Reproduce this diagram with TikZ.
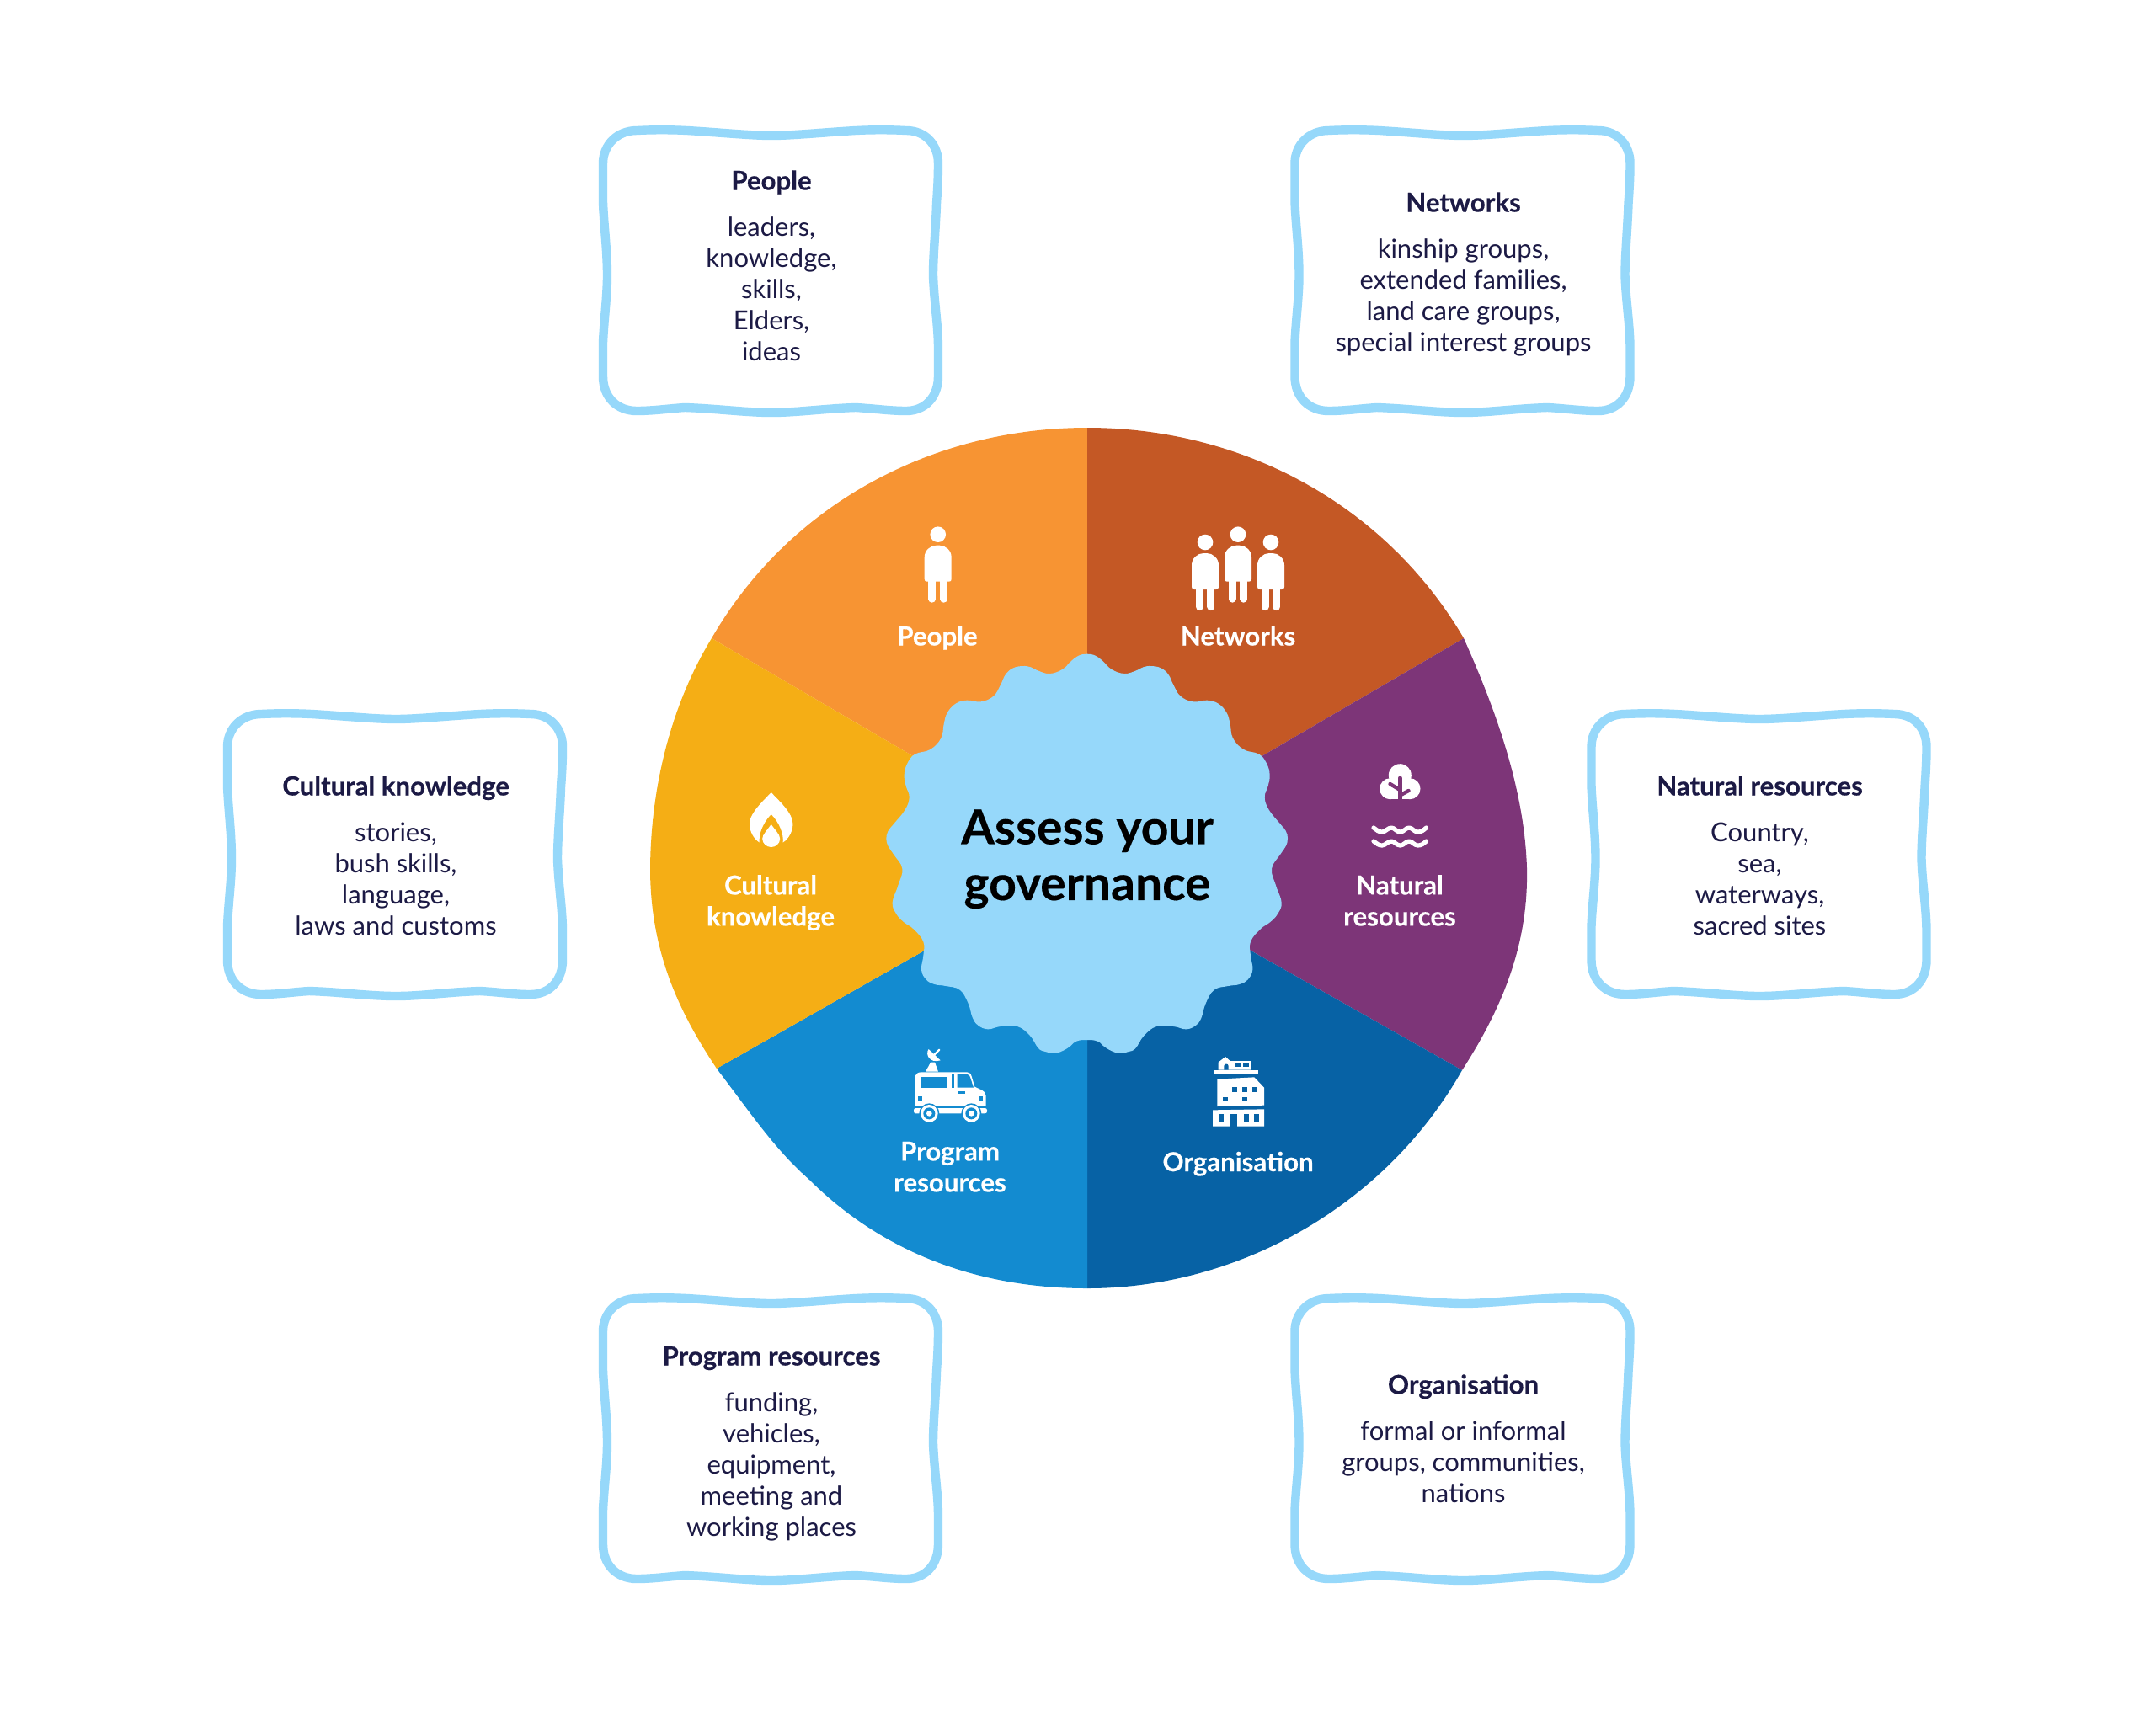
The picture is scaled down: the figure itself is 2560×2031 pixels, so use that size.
\documentclass[tikz,border=0pt]{standalone}
\usepackage{fontspec}
\setmainfont{Lato}[BoldFeatures={FakeBold=0.25}]
\definecolor{cpeople}{HTML}{F79433}
\definecolor{cnet}{HTML}{C45825}
\definecolor{cnat}{HTML}{7D3578}
\definecolor{corg}{HTML}{0762A5}
\definecolor{cprog}{HTML}{138BD0}
\definecolor{ccult}{HTML}{F5AE15}
\definecolor{csky}{HTML}{96D8FA}
\definecolor{cink}{HTML}{1C1A45}
\def\boxpath{(-160,-167) .. controls (-140,-168) and (-120,-168) .. (-100,-167)
 .. controls (-65,-165) and (-25,-161) .. (0,-161)
 .. controls (25,-161) and (65,-165) .. (100,-167)
 .. controls (120,-168) and (140,-168) .. (160,-167)
 .. controls (183,-167) and (198,-150) .. (198,-128)
 .. controls (198,-110) and (197,-95) .. (196,-80)
 .. controls (195,-50) and (192,-20) .. (192,5)
 .. controls (193,35) and (198,65) .. (198,92)
 -- (198,125) .. controls (198,150) and (182,166) .. (160,166)
 .. controls (140,166) and (120,163) .. (100,162)
 .. controls (65,163) and (30,168) .. (0,168)
 .. controls (-30,168) and (-68,163) .. (-103,162)
 .. controls (-120,163) and (-140,166) .. (-160,166)
 .. controls (-183,166) and (-200,150) .. (-200,125)
 -- (-200,85) .. controls (-199,60) and (-195,30) .. (-195,5)
 .. controls (-195,-25) and (-199,-55) .. (-200,-82)
 -- (-200,-128) .. controls (-200,-150) and (-183,-167) .. (-160,-167) -- cycle}
\tikzset{
 boxline/.style={draw=csky,line width=5.2pt,line join=round},
 headtxt/.style={anchor=base,inner sep=0pt,text=cink,font=\fontsize{15.6}{18.5}\selectfont\bfseries},
 bodytxt/.style={anchor=north,inner sep=0pt,align=center,text=cink,font=\fontsize{15.5}{18.5}\selectfont},
 wlabel/.style={anchor=base,inner sep=0pt,text=white,font=\fontsize{15.6}{18.5}\selectfont\bfseries},
 wlabeltwo/.style={anchor=north,inner sep=0pt,align=center,text=white,font=\fontsize{15.6}{18.5}\selectfont\bfseries},
 titletxt/.style={anchor=north,inner sep=0pt,align=center,text=black,font=\fontsize{28.5}{33.25}\selectfont\bfseries},
 person/.pic={
  \fill[white] (0,0) circle[radius=9.3];
  \fill[white] (-16,53) -- (-16,27) .. controls (-16,19) and (-9,13) .. (-2,13) -- (2,13)
    .. controls (9,13) and (16,19) .. (16,27) -- (16,53)
    .. controls (16,55) and (15,56) .. (13,56) -- (-13,56)
    .. controls (-15,56) and (-16,55) .. (-16,53) -- cycle;
  \draw[white,line width=4.5pt,line cap=round] (-6.9,50) -- (-6.9,76.5);
  \draw[white,line width=4.5pt,line cap=round] (6.9,50) -- (6.9,76.5);
 }
}
\begin{document}
\begin{tikzpicture}[x=0.5pt,y=-0.5pt]
\useasboundingbox (0,0) rectangle (2560,2031);
\fill[white] (0,0) rectangle (2560,2031);

% wheel sectors
\coordinate (hub) at (1291,1019);
\coordinate (ptop) at (1291,508);
\coordinate (pbot) at (1291,1530);
\coordinate (pul) at (845,758);
\coordinate (pur) at (1738,758);
\coordinate (pll) at (851,1269);
\coordinate (plr) at (1736,1271);
\fill[cpeople] (hub) -- (pul) .. controls (937,599) and (1107,508) .. (ptop) -- cycle;
\fill[cnet] (hub) -- (ptop) .. controls (1475,508) and (1645,599) .. (pur) -- cycle;
\fill[cnat] (hub) -- (pur) .. controls (1770,830) and (1810,930) .. (1813,1031)
   .. controls (1815,1120) and (1785,1195) .. (plr) -- cycle;
\fill[corg] (hub) -- (plr) .. controls (1646,1430) and (1473,1530) .. (pbot) -- cycle;
\fill[cprog] (hub) -- (pbot) .. controls (1150,1530) and (1040,1480) .. (960,1400)
   .. controls (920,1365) and (890,1320) .. (pll) -- cycle;
\fill[ccult] (hub) -- (pll) .. controls (805,1200) and (773,1130) .. (772,1035)
   .. controls (772,940) and (795,840) .. (pul) -- cycle;

% central bloom
\begin{scope}[shift={(1040,765)},scale=1/3]
\fill[csky] plot[smooth cycle,tension=0.7] coordinates {
 (752,35) (782,41) (808,60) (840,90) (885,105) (925,95) (952,82) (980,78) (1015,85) (1042,108) (1060,145)
 (1085,185) (1130,205) (1180,200) (1220,212) (1250,245) (1262,285) (1272,335) (1310,375)
 (1365,392) (1392,425) (1403,465) (1397,505) (1385,545) (1400,590) (1440,640) (1460,665) (1467,692)
 (1460,720) (1440,750) (1410,800) (1425,860) (1445,920) (1432,960) (1405,990) (1370,1015) (1335,1060)
 (1335,1110) (1342,1160) (1325,1195) (1295,1212) (1255,1218) (1205,1232) (1175,1280)
 (1160,1330) (1140,1358) (1105,1372) (1060,1362) (1000,1362) (955,1395) (925,1440) (900,1452) (872,1457)
 (845,1452) (815,1435) (790,1415) (752,1410)
 (714,1415) (689,1435) (659,1452) (632,1457) (604,1452) (579,1440) (549,1395) (504,1362) (444,1362)
 (399,1372) (364,1358) (344,1330) (329,1280) (299,1232) (249,1218) (209,1212) (179,1195) (162,1160)
 (169,1110) (169,1060) (134,1015) (99,990) (72,960) (59,920) (79,860) (94,800) (64,750)
 (44,720) (37,692) (44,665) (64,640) (104,590) (119,545) (107,505) (101,465) (112,425) (139,392) (194,375)
 (232,335) (242,285) (254,245) (284,212) (324,200) (374,205) (419,185) (444,145) (462,108) (489,85)
 (524,78) (552,82) (579,95) (619,105) (664,90) (696,60) (722,41)};
\end{scope}
\node[titletxt] (title) at (1291,955.5) {\strut Assess your\\governance};

% info boxes
\draw[boxline,shift={(916,322)}] \boxpath;
\draw[boxline,shift={(1737.5,322)}] \boxpath;
\draw[boxline,shift={(470,1015)}] \boxpath;
\draw[boxline,shift={(2089.5,1015)}] \boxpath;
\draw[boxline,shift={(916,1709)}] \boxpath;
\draw[boxline,shift={(1737.5,1709)}] \boxpath;

\node[headtxt] (hpeople) at (916,225.5) {People};
\node[bodytxt] (bpeople) at (916,254.6) {\strut leaders,\\knowledge,\\skills,\\Elders,\\ideas};
\node[headtxt] (hnet) at (1737.5,251.5) {Networks};
\node[bodytxt] (bnet) at (1737.5,280.6) {\strut kinship groups,\\extended families,\\land care groups,\\special interest groups};
\node[headtxt] (hcult) at (470,944.5) {Cultural knowledge};
\node[bodytxt] (bcult) at (470,973.6) {\strut stories,\\bush skills,\\language,\\laws and customs};
\node[headtxt] (hnat) at (2089.5,944.5) {Natural resources};
\node[bodytxt] (bnat) at (2089.5,973.6) {\strut Country,\\sea,\\waterways,\\sacred sites};
\node[headtxt] (hprog) at (916,1621.5) {Program resources};
\node[bodytxt] (bprog) at (916,1650.6) {\strut funding,\\vehicles,\hspace*{4.5pt}\\equipment,\hspace*{4.5pt}\\meeting and\\working places};
\node[headtxt] (horg) at (1737.5,1655.5) {Organisation};
\node[bodytxt] (borg) at (1737.5,1684.6) {\strut formal or informal\\groups, communities,\\nations};

% wheel labels
\node[wlabel] (lpeople) at (1113,766.5) {People};
\node[wlabel] (lnet) at (1470,766.5) {Networks};
\node[wlabeltwo] (lcult) at (915,1036.1) {\strut Cultural\\knowledge};
\node[wlabeltwo] (lnat) at (1662,1036.1) {\strut Natural\\resources};
\node[wlabeltwo] (lprog) at (1128,1352.1) {\strut Program\\resources};
\node[wlabel] (lorg) at (1470,1391) {Organisation};

% people icons
\pic at (1113.7,634.7) {person};
\pic at (1431,644) {person};
\pic at (1470,634.7) {person};
\pic at (1509,644) {person};

% flame icon
\begin{scope}[shift={(915.7,941)}]
\fill[white] (0,0) .. controls (-8,9) and (-25.7,24) .. (-25.7,37.5)
  .. controls (-25.7,46) and (-21,55) .. (-14,59.5)
  .. controls (-15,50) and (-10,36) .. (0,26)
  .. controls (10,36) and (15,50) .. (14,59.5)
  .. controls (21,55) and (25.7,46) .. (25.7,37.5)
  .. controls (25.7,24) and (8,9) .. (0,0) -- cycle;
\fill[white] (0,38) .. controls (-4,44) and (-10.5,50) .. (-10.5,55)
  .. controls (-10.5,61) and (-5,65) .. (0,65)
  .. controls (5,65) and (10.5,61) .. (10.5,55)
  .. controls (10.5,50) and (4,44) .. (0,38) -- cycle;
\end{scope}

% tree and water icon
\begin{scope}
\clip (1630,900) rectangle (1695,949.3);
\fill[white] (1662.3,920.7) circle[radius=13.5];
\fill[white] (1650.7,936.7) circle[radius=12.5];
\fill[white] (1674,936.7) circle[radius=12.5];
\fill[white] (1650,930) rectangle (1674,949.3);
\end{scope}
\draw[cnat,line width=2.4pt,line cap=round] (1662.3,924) -- (1662.3,952);
\draw[cnat,line width=2.2pt,line cap=round] (1650.5,931) -- (1662.3,938);
\draw[cnat,line width=2.2pt,line cap=round] (1672.5,939) -- (1662.3,944.5);
\foreach \wy in {985,1001}{
 \draw[white,line width=2.6pt,line cap=round,line join=round]
  (1631,\wy-2) .. controls (1635,\wy+1) and (1637,\wy+3) .. (1641,\wy+3)
  .. controls (1645,\wy+3) and (1648,\wy-2) .. (1652,\wy-2)
  .. controls (1656,\wy-2) and (1658,\wy+3) .. (1662.5,\wy+3)
  .. controls (1667,\wy+3) and (1669,\wy-2) .. (1673,\wy-2)
  .. controls (1677,\wy-2) and (1679,\wy+3) .. (1683.5,\wy+3)
  .. controls (1688,\wy+3) and (1690,\wy+1) .. (1693.5,\wy-2);
}

% van and building icons
\begin{scope}[shift={(1050,1230)},scale=1/3]
 % dish
 \fill[white] (147,128) -- (165,95) -- (180,95) -- (192,128) -- cycle;
 \fill[white] (158,48) .. controls (145,65) and (160,100) .. (200,88) -- cycle;
 \draw[white,line width=1.2pt,line cap=round] (176,70) -- (196,50);
 % van
 \fill[white] (110,250) -- (110,150) .. controls (110,138) and (118,130) .. (130,130)
   -- (295,130) .. controls (303,130) and (308,135) .. (311,145) -- (322,182)
   -- (348,194) .. controls (356,198) and (362,205) .. (362,215) -- (362,250) -- cycle;
 \fill[cprog] (130,148) rectangle (222,185);
 \fill[cprog] (240,138) rectangle (250,185);
 \fill[cprog] (260,138) -- (295,138) .. controls (302,138) and (304,142) .. (306,148) -- (318,185) -- (260,185) -- cycle;
 \fill[cprog] (260,198) rectangle (287,207);
 \fill[cprog] (120,217) rectangle (135,235);
 \fill[cprog] (338,217) rectangle (352,235);
 \fill[white,rounded corners=1.2pt] (105,258) rectangle (366,277);
 \foreach \wx in {160,310}{
  \fill[cprog] (\wx,277) circle[radius=36];
  \fill[white] (\wx,277) circle[radius=31];
  \fill[cprog] (\wx,277) circle[radius=21];
  \fill[white] (\wx,277) circle[radius=10];
 }
 % building
 \fill[white] (1190,122) -- (1190,95) -- (1215,75) -- (1232,90) -- (1305,90) -- (1305,122) -- cycle;
 \fill[corg] (1210,122) -- (1210,108) .. controls (1210,98) and (1226,98) .. (1226,108) -- (1226,122) -- cycle;
 \fill[corg] (1248,98) rectangle (1268,112);
 \fill[corg] (1278,98) rectangle (1298,112);
 \fill[white] (1173,122) rectangle (1332,138);
 \fill[white] (1186,155) -- (1318,148) -- (1353,185) -- (1353,248) -- (1186,252) -- cycle;
 \foreach \qx/\qy in {1240/183,1275/183,1310/183,1205/218,1275/218}
  \fill[corg] (\qx,\qy) rectangle ++(18,17);
 \fill[white] (1170,265) -- (1353,262) -- (1353,323) -- (1170,323) -- cycle;
 \foreach \qx in {1190,1280,1318}
  \fill[corg] (\qx,280) rectangle ++(18,25);
 \fill[corg] (1232,280) rectangle (1258,323);
\end{scope}
\end{tikzpicture}
\end{document}
